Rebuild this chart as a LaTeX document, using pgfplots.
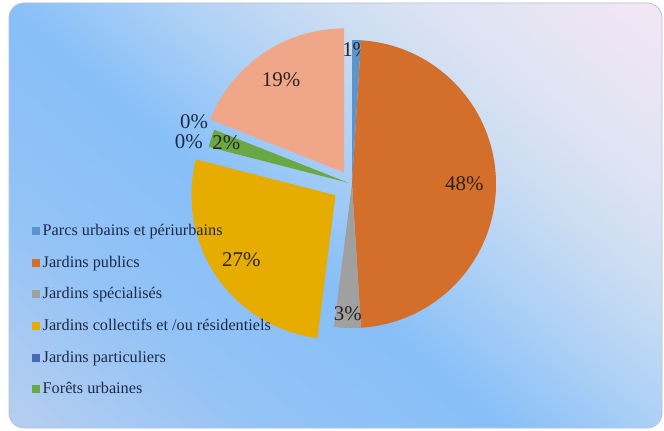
\documentclass[border=0pt]{standalone}
\usepackage{fontspec}
\setmainfont{Liberation Serif}
\usepackage{pgfplots}
\usepackage{pgfplotstable}
\pgfplotsset{compat=1.18}

\definecolor{cA}{HTML}{5B95CC}
\definecolor{cB}{HTML}{D46E2B}
\definecolor{cC}{HTML}{A0A0A0}
\definecolor{cD}{HTML}{E6AC00}
\definecolor{cE}{HTML}{4169B5}
\definecolor{cF}{HTML}{6AA843}
\definecolor{cG}{HTML}{7F7F7F}
\definecolor{cH}{HTML}{F0A688}
\definecolor{labdark}{HTML}{2A2422}
\definecolor{labnavy}{HTML}{1C2A48}
\definecolor{frame}{HTML}{B5C3D3}
\definecolor{gL}{HTML}{C8D8F0}
\definecolor{gL2}{HTML}{B2CDF1}
\definecolor{gL3}{HTML}{94C3F6}
\definecolor{gM}{HTML}{87BFF8}
\definecolor{gR1}{HTML}{AED1F6}
\definecolor{gR2}{HTML}{CCDDF2}
\definecolor{gR3}{HTML}{DDE3F3}
\definecolor{gR4}{HTML}{F4E6F4}

% s = 50 + d/36, d = distance (px) from the blue band, towards the top right
\pgfdeclarehorizontalshading{bglin}{100bp}{%
  color(0bp)=(gL); color(37.5bp)=(gL); color(41.7bp)=(gL2);
  color(45.8bp)=(gL3); color(50bp)=(gM); color(53.1bp)=(gR1);
  color(55.75bp)=(gR2); color(57.7bp)=(gR3); color(61.8bp)=(gR4);
  color(100bp)=(gR4)}

% share (%), colour, explosion (px), label distance (x radius), label colour
\pgfplotstableread[col sep=semicolon]{
name;val;col;expl;lab;tcol
Parcs urbains et périurbains;1;cA;0;0.93;labdark
Jardins publics;48;cB;0;0.78;labdark
Jardins spécialisés;3;cC;0;0.90;labdark
Jardins collectifs et /ou résidentiels;27;cD;20;0.79;labdark
Jardins particuliers;0;cE;0;1.17;labnavy
Forêts urbaines;2;cF;4;0.89;labdark
cat7;0;cG;0;1.18;labnavy
cat8;19;cH;14;0.78;labdark
}\piedata

\begin{document}
\begin{tikzpicture}
\begin{axis}[
    x=1bp, y=1bp,
    xmin=0, xmax=664, ymin=0, ymax=430,
    hide axis, clip=false,
]
\pgfplotsextra{
  % background
  \fill[white] (axis cs:0,0) rectangle (axis cs:664,430);
  \begin{scope}
    \clip[rounded corners=15bp] (axis cs:9,2) rectangle (axis cs:662,427);
    \shade[shading=bglin, shading angle=49.6] (axis cs:-890,-480) rectangle (axis cs:910,1320);
  \end{scope}
  \draw[frame, line width=0.8bp, rounded corners=15bp] (axis cs:9,2) rectangle (axis cs:662,427);

  % pie slices
  \gdef\cum{0}
  \foreach \i in {0,...,7}{
    \pgfplotstablegetelem{\i}{val}\of\piedata \let\pv\pgfplotsretval
    \pgfplotstablegetelem{\i}{col}\of\piedata \let\pc\pgfplotsretval
    \pgfplotstablegetelem{\i}{expl}\of\piedata \let\pe\pgfplotsretval
    \pgfplotstablegetelem{\i}{lab}\of\piedata \let\pk\pgfplotsretval
    \pgfplotstablegetelem{\i}{tcol}\of\piedata \let\pt\pgfplotsretval
    \pgfmathsetmacro\aA{90-3.6*\cum}
    \pgfmathsetmacro\aB{90-3.6*(\cum+\pv)}
    \pgfmathsetmacro\aM{(\aA+\aB)/2}
    \pgfmathsetmacro\ax{352+\pe*cos(\aM)}
    \pgfmathsetmacro\ay{246+\pe*sin(\aM)}
    \pgfmathsetmacro\lx{\ax+\pk*144*cos(\aM)}
    \pgfmathsetmacro\ly{\ay+\pk*144*sin(\aM)}
    \ifdim\pv pt>0pt
      \fill[fill=\pc] (axis cs:\ax,\ay) -- ++(\aA:144bp)
        arc[start angle=\aA, end angle=\aB, radius=144bp] -- cycle;
    \fi
    \node[text=\pt, font=\fontsize{21}{25}\selectfont, inner sep=0pt]
      at (axis cs:\lx,\ly) {\pv\%};
    \pgfmathsetmacro\cumnew{\cum+\pv}
    \xdef\cum{\cumnew}
  }

  % legend (first six categories)
  \foreach \i in {0,...,5}{
    \pgfplotstablegetelem{\i}{name}\of\piedata \let\pn\pgfplotsretval
    \pgfplotstablegetelem{\i}{col}\of\piedata \let\pc\pgfplotsretval
    \pgfmathsetmacro\yy{430-231-31.65*\i}
    \fill[fill=\pc] (axis cs:32,\yy-4) rectangle (axis cs:40,\yy+4);
    \node[anchor=base west, text=labnavy, font=\fontsize{16.3}{19}\selectfont, inner sep=0pt]
      at (axis cs:42.5,\yy-4.5) {\pn};
  }
}
\end{axis}
\end{tikzpicture}
\end{document}
